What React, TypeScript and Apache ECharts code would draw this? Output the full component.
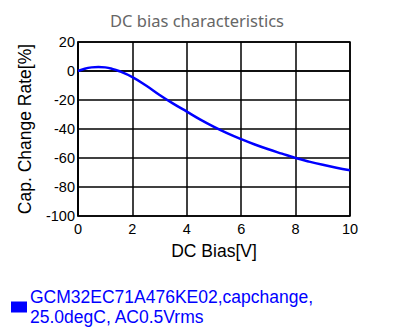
import React, { useEffect, useRef } from "react";
import * as echarts from "echarts";

const biasV = [0, 0.25, 0.5, 0.75, 1, 1.25, 1.5, 2, 2.5, 3, 3.5, 4, 4.5, 5, 5.5, 6, 6.5, 7, 7.5, 8, 8.5, 9, 9.5, 10];
const capChange = [0, 1.6, 2.5, 2.8, 2.5, 1.5, 0, -4.2, -10, -16.5, -22.5, -28, -33.5, -38.5, -43, -47, -50.7, -54, -57, -60, -62.5, -64.7, -66.7, -68.5];
const seriesName = "GCM32EC71A476KE02,capchange,\n25.0degC, AC0.5Vrms";
const xTicks = [0, 2, 4, 6, 8, 10];
const yTicks = [-100, -80, -60, -40, -20, 0, 20];

export default function App() {
  const ref = useRef<HTMLDivElement>(null);
  useEffect(() => {
    if (!ref.current) return;
    const chart = echarts.init(ref.current, null, { renderer: "svg" });
    const font = "'Liberation Sans', Arial, sans-serif";
    chart.setOption({
      animation: false,
      title: {
        text: "DC bias characteristics",
        left: "center",
        top: 7,
        textStyle: { color: "#666", fontSize: 16.5, fontWeight: "normal", fontFamily: "'Noto Sans', sans-serif" },
      },
      legend: {
        left: 6,
        top: 282,
        icon: "rect",
        itemWidth: 16,
        itemHeight: 11,
        itemGap: 4,
        textStyle: { color: "#0000ff", fontSize: 17.5, fontFamily: font, lineHeight: 20, padding: [0, 0, 0, -2] },
        data: [seriesName],
      },
      grid: { left: 78, right: 44, top: 42, bottom: 113 },
      xAxis: {
        type: "value",
        min: xTicks[0],
        max: xTicks[xTicks.length - 1],
        interval: 2,
        name: "DC Bias[V]",
        nameLocation: "middle",
        nameGap: 26,
        nameTextStyle: { color: "#000", fontSize: 17.5, fontFamily: font },
        axisLine: { show: true, lineStyle: { color: "#000", width: 1.5 } },
        axisTick: { show: false },
        axisLabel: { color: "#000", fontSize: 14.5, fontFamily: font, margin: 5 },
        splitLine: { show: true, lineStyle: { color: "#000", width: 1.5 } },
      },
      yAxis: {
        type: "value",
        min: yTicks[0],
        max: yTicks[yTicks.length - 1],
        interval: 20,
        name: "Cap. Change Rate[%]",
        nameLocation: "middle",
        nameGap: 44,
        nameTextStyle: { color: "#000", fontSize: 17.5, fontFamily: font },
        axisLine: { show: true, lineStyle: { color: "#000", width: 1.5 } },
        axisTick: { show: false },
        axisLabel: { color: "#000", fontSize: 14.5, fontFamily: font, margin: 3 },
        splitLine: { show: true, lineStyle: { color: "#000", width: 1.5 } },
      },
      series: [
        {
          name: seriesName,
          type: "line",
          smooth: 0.4,
          showSymbol: false,
          symbol: "none",
          color: "#0000ff",
          lineStyle: { color: "#0000ff", width: 2.5 },
          data: biasV.map((v, i) => [v, capChange[i]]),
        },
      ],
      graphic: [
        {
          type: "rect",
          shape: { x: 78, y: 42, width: 272, height: 174 },
          style: { fill: "none", stroke: "#000", lineWidth: 1.5 },
          silent: true,
        },
      ],
    });
    return () => chart.dispose();
  }, []);
  return <div ref={ref} style={{ width: 394, height: 329, position: "absolute", left: 0, top: 0 }} />;
}
